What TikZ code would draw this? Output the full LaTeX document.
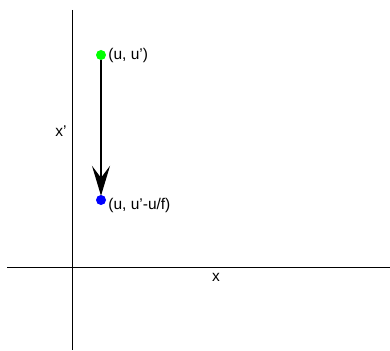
\documentclass[tikz,border=0pt]{standalone}
\usepackage{fontspec}
\setmainfont{Liberation Sans}
\usetikzlibrary{arrows.meta}

\begin{document}
\begin{tikzpicture}[x=1pt, y=-1pt, >=Stealth,
    pt/.style={circle, inner sep=0pt, minimum size=10pt},
    lbl/.style={font=\fontsize{15.5}{18}\selectfont, inner sep=1pt}]

    % --- Frame ---
    \useasboundingbox (0, 0) rectangle (390, 350);

    % --- Key Coordinates ---
    \coordinate (Ytop) at (72, 10);
    \coordinate (Ybot) at (72, 350);
    \coordinate (Xleft) at (7, 267);
    \coordinate (Xright) at (390, 267);

    % --- 1. Axes ---
    \draw[line width=1pt] (Xleft) -- (Xright);
    \draw[line width=1pt] (Ytop) -- (Ybot);
    \node[lbl] (xlab) at (216, 277) {x};
    \node[lbl] (yplab) at (61, 131) {x'};

    % --- 2. Points ---
    \node[pt, fill=green] (Start) at (101, 55) {};
    \node[pt, fill=blue] (End) at (101, 200) {};
    \node[lbl, right=1pt] (StartLab) at (Start.east) {(u, u')};
    \node[lbl, right=1pt, yshift=-5pt] (EndLab) at (End.east) {(u, u'-u/f)};

    % --- 3. Shift arrow ---
    \draw[line width=1.6pt, shorten >=-1pt,
        -{Stealth[length=30pt, width=18pt, inset=12pt]}] (Start) -- (End);

\end{tikzpicture}
\end{document}
